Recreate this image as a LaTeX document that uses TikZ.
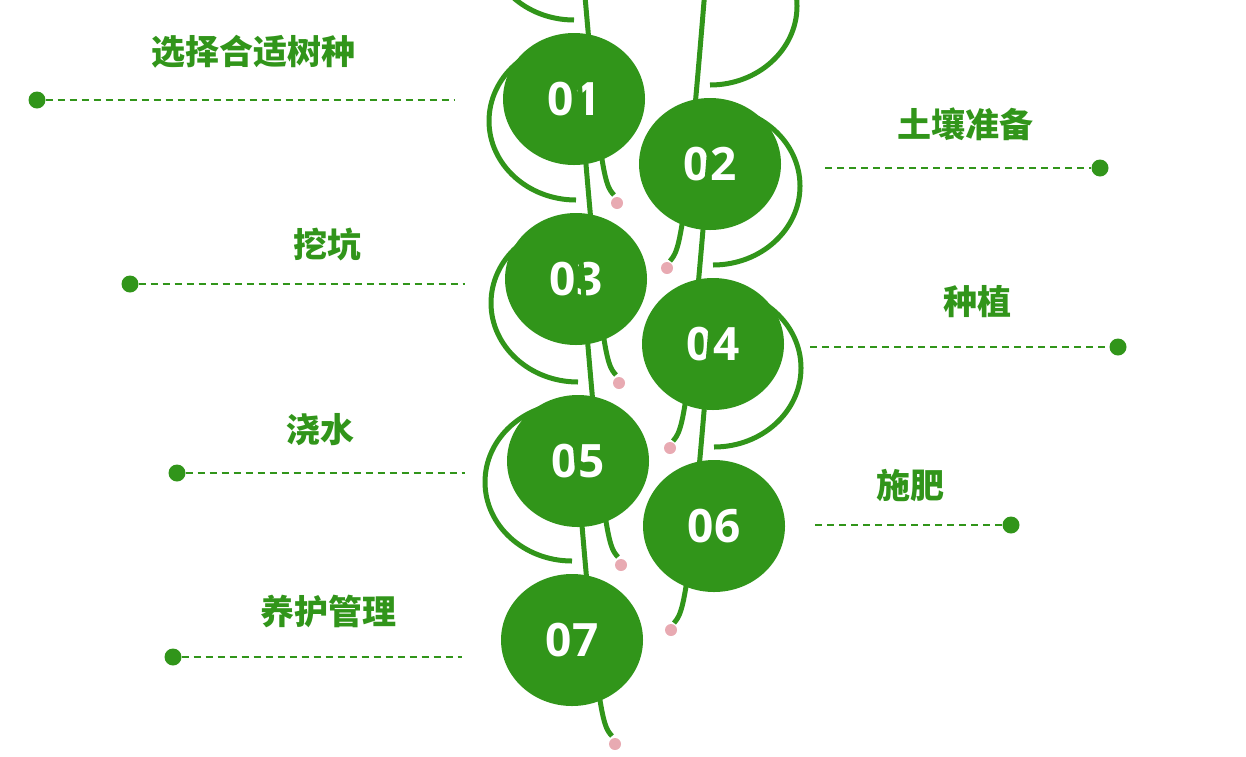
\documentclass[tikz,border=0pt]{standalone}
\usepackage{fontspec}
\setmainfont{Open Sans}
\newfontfamily\cjk{Noto Sans CJK SC}
\definecolor{gr}{HTML}{31951A}
\definecolor{pk}{HTML}{E8AAB2}
\begin{document}
\begin{tikzpicture}[x=1pt,y=-1pt,
  disc/.style={ellipse,fill=gr,minimum width=142pt,minimum height=132pt,inner sep=0,text=white,font=\fontsize{46}{46}\selectfont\bfseries},
  arcline/.style={draw=gr,line width=5pt},
  pdot/.style={circle,fill=pk,minimum size=12pt,inner sep=0},
  gdot/.style={circle,fill=gr,minimum size=17pt,inner sep=0},
  dline/.style={draw=gr,dashed,line width=1.5pt,dash pattern=on 7pt off 5pt},
  lab/.style={text=gr,font=\cjk\bfseries\fontsize{34}{34}\selectfont}]
\useasboundingbox (0,0) rectangle (1246,756);
\usetikzlibrary{shapes.geometric}
% left items
\foreach \n/\cx/\cy in {01/574/99,03/576/279,05/578/461,07/572/640}{
  \draw[arcline] (\cx,\cy-79) arc[start angle=90,end angle=270,x radius=87,y radius=79]
    .. controls (\cx+25,\cy+79) and (\cx+30,\cy+85) .. (\cx+40,\cy+96);
  \node[pdot] (p\n) at (\cx+43,\cy+104) {};
  \node[disc] (c\n) at (\cx,\cy) {\n};
}
\foreach \n/\cx/\cy in {02/710/164,04/713/344,06/714/526}{
  \draw[arcline] (\cx,\cy-79) arc[start angle=90,end angle=-90,x radius=87,y radius=79]
    .. controls (\cx-25,\cy+79) and (\cx-30,\cy+85) .. (\cx-40,\cy+97);
  \node[pdot] (p\n) at (\cx-43,\cy+104) {};
  \node[disc] (c\n) at (\cx,\cy) {\n};
}
% labels and lines
\node[gdot] (d1) at (37,100) {}; \coordinate (e1) at (455,100);
\draw[dline] (d1) -- (e1);
\node[lab] (t1) at (253,52) {选择合适树种};
\node[gdot] (d2) at (1100,168) {}; \coordinate (e2) at (825,168);
\draw[dline] (e2) -- (d2);
\node[lab] (t2) at (965,124) {土壤准备};
\node[gdot] (d3) at (130,284) {}; \coordinate (e3) at (465,284);
\draw[dline] (d3) -- (e3);
\node[lab] (t3) at (327,245) {挖坑};
\node[gdot] (d4) at (1118,347) {}; \coordinate (e4) at (810,347);
\draw[dline] (e4) -- (d4);
\node[lab] (t4) at (977,302) {种植};
\node[gdot] (d5) at (177,473) {}; \coordinate (e5) at (465,473);
\draw[dline] (d5) -- (e5);
\node[lab] (t5) at (320,430) {浇水};
\node[gdot] (d6) at (1011,525) {}; \coordinate (e6) at (815,525);
\draw[dline] (e6) -- (d6);
\node[lab] (t6) at (910,486) {施肥};
\node[gdot] (d7) at (173,657) {}; \coordinate (e7) at (462,657);
\draw[dline] (d7) -- (e7);
\node[lab] (t7) at (328,611) {养护管理};
\end{tikzpicture}
\end{document}
